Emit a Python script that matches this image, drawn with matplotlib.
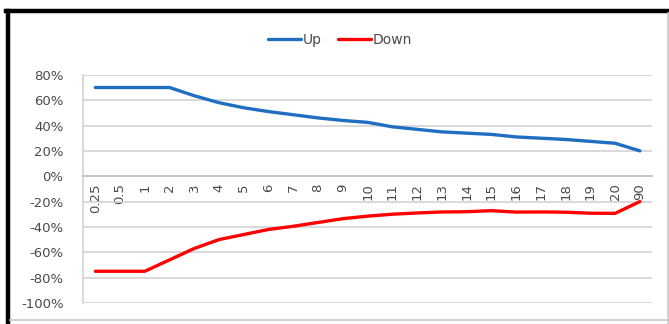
import matplotlib
matplotlib.use("Agg")
import matplotlib.pyplot as plt
from matplotlib.lines import Line2D
from matplotlib.ticker import FuncFormatter

# Categories (maturity) and series values in %
categories = ["0.25", "0.5", "1", "2", "3", "4", "5", "6", "7", "8", "9", "10",
              "11", "12", "13", "14", "15", "16", "17", "18", "19", "20", "90"]
up = [70, 70, 70, 70, 63.5, 58, 54, 51, 48.5, 46, 44, 42.5,
      39, 37, 35, 34, 33, 31, 30, 29, 27.5, 26, 20]
down = [-75, -75, -75, -66, -57, -50, -46, -42, -39.5, -36.5, -33.5, -31.5,
        -30, -29, -28.2, -28, -27.2, -28.3, -28.2, -28.4, -29.2, -29.3, -20]
yticks = list(range(-100, 81, 20))

fig = plt.figure(figsize=(6.69, 3.24), dpi=100)
ax = fig.add_axes([0.124, 0.065, 0.851, 0.704])

x = list(range(len(categories)))
ax.plot(x, up, color="#1F6EC2", linewidth=2.4, label="Up", solid_capstyle="round")
ax.plot(x, down, color="#FF0000", linewidth=2.4, label="Down", solid_capstyle="round")

ax.set_xlim(-0.5, len(categories) - 0.5)
ax.set_ylim(-100, 80)
ax.set_yticks(yticks)
ax.yaxis.set_major_formatter(FuncFormatter(lambda v, p: f"{int(v)}%"))
ax.grid(True, axis="y", color="#CFCFCF", linewidth=1.1)
ax.set_axisbelow(True)

for s in ["top", "right"]:
    ax.spines[s].set_visible(False)
ax.spines["left"].set_color("#CFCFCF")
ax.spines["left"].set_linewidth(1.1)
ax.spines["bottom"].set_position(("data", 0))
ax.spines["bottom"].set_color("#BFBFBF")
ax.spines["bottom"].set_linewidth(1.1)

ax.set_xticks(x)
ax.set_xticklabels(categories, rotation=90, va="top", ha="center")
ax.tick_params(axis="x", length=0, pad=5, labelsize=9.5, labelcolor="#4A4A4A")
ax.tick_params(axis="y", length=0, pad=14, labelsize=9.5, labelcolor="#4A4A4A")
for lbl in ax.get_xticklabels():
    lbl.set_bbox(dict(facecolor="white", edgecolor="none", pad=0.5))

fig.legend(loc="center", bbox_to_anchor=(0.508, 0.877), ncol=2, frameon=False,
           fontsize=10, handlelength=2.4, columnspacing=1.2, handletextpad=0.1,
           labelcolor="#4A4A4A")

# chart frame: heavy black top/left, light grey right/bottom
fig.add_artist(Line2D([0.012, 0.012], [0.0, 0.966], transform=fig.transFigure,
                      color="black", linewidth=3.2))
fig.add_artist(Line2D([0.009, 1.0], [0.966, 0.966], transform=fig.transFigure,
                      color="black", linewidth=3.2))
fig.add_artist(Line2D([0.998, 0.998], [0.0, 0.96], transform=fig.transFigure,
                      color="#C8C8C8", linewidth=1.2))
fig.add_artist(Line2D([0.015, 1.0], [0.012, 0.012], transform=fig.transFigure,
                      color="#C8C8C8", linewidth=1.2))

fig.savefig("out.png", dpi=100)
